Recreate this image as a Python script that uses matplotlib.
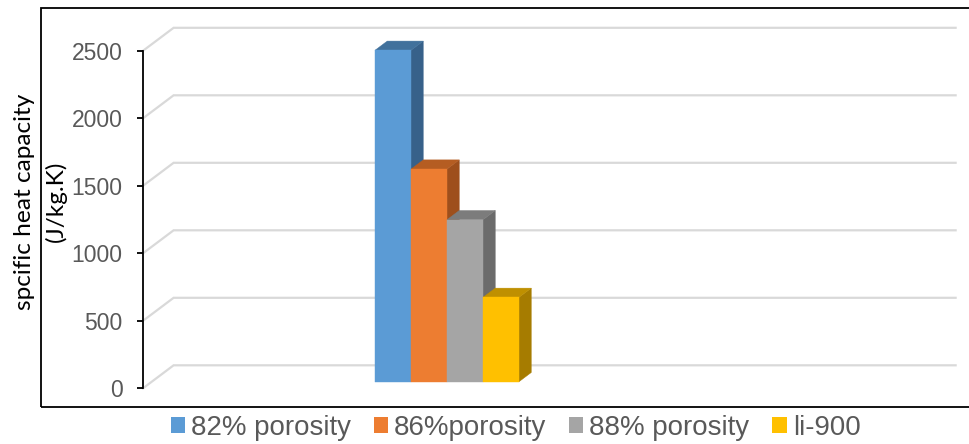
import matplotlib
matplotlib.use("Agg")
import matplotlib.pyplot as plt
from matplotlib.patches import Polygon, Rectangle, Patch
from matplotlib.lines import Line2D

# ---- data ----
series = ["82% porosity", "86%porosity", "88% porosity", "li-900"]
values = [2455, 1575, 1200, 625]
yticks = [0, 500, 1000, 1500, 2000, 2500]
ylabel_lines = ["spcific heat capacity", "(J/kg.K)"]

# ---- styles ----
front_colors = ["#5B9BD5", "#ED7D31", "#A5A5A5", "#FFC000"]
top_colors = ["#41719C", "#B55D22", "#7C7C7C", "#BF9000"]
side_colors = ["#37618A", "#9E4F1C", "#6B6B6B", "#A67C00"]
grid_color = "#D9D9D9"
text_color = "#595959"

W, H, DPI = 970, 444, 100
fig = plt.figure(figsize=(W / DPI, H / DPI), dpi=DPI)

# outer chart frame (right side runs off the canvas)
fig.add_artist(Rectangle((41.5 / W, 1 - 406.7 / H), 1.02, (406.7 - 8) / H,
                         transform=fig.transFigure, fill=False,
                         edgecolor="black", linewidth=1.3))

# front plane of the plot area, in pixels
L, R, B, T = 143.0, 925.0, 388.3, 50.8
ax = fig.add_axes([L / W, 1 - B / H, (R - L) / W, (B - T) / H])
ymax = yticks[-1]
ax.set_ylim(0, ymax)
xmin, xmax = -6.7, 15.02
ax.set_xlim(xmin, xmax)
ax.patch.set_visible(False)

px_per_x = (R - L) / (xmax - xmin)
px_per_y = (B - T) / ymax
# oblique offset of the back wall, in data units
DX = 30.6 / px_per_x
DY = 23.0 / px_per_y


def proj(x, y, d):
    return (x + d * DX, y + d * DY)


# side-wall and back-wall gridlines
for v in yticks:
    pts = [proj(xmin, v, 0), proj(xmin, v, 1), proj(xmax, v, 1)]
    ax.add_line(Line2D([p[0] for p in pts], [p[1] for p in pts],
                       color=grid_color, linewidth=1.6, clip_on=False,
                       zorder=1, solid_joinstyle="miter"))

# 3-D looking bars
d0, bd = 0.287, 0.40
for i, (h, fc, tc, sc) in enumerate(zip(values, front_colors, top_colors, side_colors)):
    x0, x1 = i - 0.5, i + 0.5
    front = [proj(x0, 0, d0), proj(x1, 0, d0), proj(x1, h, d0), proj(x0, h, d0)]
    top = [proj(x0, h, d0), proj(x1, h, d0), proj(x1, h, d0 + bd), proj(x0, h, d0 + bd)]
    side = [proj(x1, 0, d0), proj(x1, 0, d0 + bd), proj(x1, h, d0 + bd), proj(x1, h, d0)]
    for poly, col in ((side, sc), (top, tc), (front, fc)):
        ax.add_patch(Polygon(poly, closed=True, facecolor=col, edgecolor=col,
                             linewidth=0.3, clip_on=False, zorder=3 + i))

# value axis
for s in ("top", "right", "bottom"):
    ax.spines[s].set_visible(False)
ax.spines["left"].set_color("black")
ax.spines["left"].set_linewidth(1.3)
ax.set_xticks([])
ax.set_yticks(yticks)
ax.tick_params(axis="y", direction="out", length=4.3, width=1.3, color="black",
               pad=10.5, labelsize=16.5, labelcolor=text_color)
for lab in ax.get_yticklabels():
    lab.set_fontfamily("Liberation Sans")

# axis title (two lines)
fig.text(25 / W, 1 - 202 / H, ylabel_lines[0], rotation=90, ha="center", va="center",
         fontsize=17.6, family="Lato", color="black")
fig.text(56 / W, 1 - 201 / H, ylabel_lines[1], rotation=90, ha="center", va="center",
         fontsize=17.6, family="Lato", color="black")

# legend
handles = [Patch(facecolor=c, edgecolor="none") for c in front_colors]
fig.legend(handles, series, loc="center", ncol=4, frameon=False,
           bbox_to_anchor=(515.5 / W, 1 - 428 / H),
           prop={"family": "Liberation Sans", "size": 19.9}, labelcolor=text_color,
           handlelength=0.51, handleheight=0.51, handletextpad=0.22,
           columnspacing=0.83, borderpad=0, borderaxespad=0)

fig.savefig("out.png", dpi=DPI)
